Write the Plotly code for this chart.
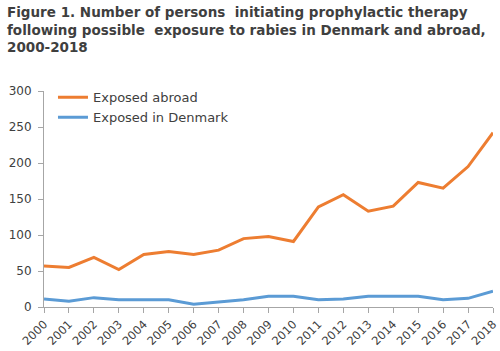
import plotly.graph_objects as go

years = list(range(2000, 2019))
abroad = [57, 55, 69, 52, 73, 77, 73, 79, 95, 98, 91, 139, 156, 133, 140, 173, 165, 195, 242]
denmark = [11, 8, 13, 10, 10, 10, 4, 7, 10, 15, 15, 10, 11, 15, 15, 15, 10, 12, 22]

title_lines = ["Figure 1. Number of persons  initiating prophylactic therapy",
               "following possible  exposure to rabies in Denmark and abroad,",
               "2000-2018"]

fig = go.Figure()
fig.add_trace(go.Scatter(x=years, y=abroad, mode="lines", name="Exposed abroad",
                         line=dict(color="#ED7D31", width=3)))
fig.add_trace(go.Scatter(x=years, y=denmark, mode="lines", name="Exposed in Denmark",
                         line=dict(color="#5B9BD5", width=3)))

plot_top, plot_bottom = 91, 307
plot_h = plot_bottom - plot_top

fig.add_annotation(
    text="<b>" + "<br>".join(title_lines) + "</b>",
    xref="paper", yref="paper", x=-39 / 449, y=(plot_bottom - 2) / plot_h,
    xanchor="left", yanchor="top", align="left", showarrow=False,
    font=dict(family="DejaVu Sans", size=13.5, color="#3F3F3F"),
)

fig.update_layout(
    width=500, height=351,
    margin=dict(l=44, r=7, t=plot_top, b=351 - plot_bottom, autoexpand=False),
    paper_bgcolor="white", plot_bgcolor="white",
    font=dict(family="DejaVu Sans", color="#404040", size=12),
    legend=dict(x=0.02, y=1.04, xanchor="left", yanchor="top", bgcolor="rgba(0,0,0,0)",
                font=dict(size=13, color="#404040"), tracegroupgap=0),
    showlegend=True,
)
fig.update_xaxes(range=[2000, 2018], tickmode="array", tickvals=years,
                 ticktext=[str(y) for y in years], tickangle=-45, automargin=False,
                 showgrid=False, zeroline=False, showline=True, linecolor="#A6A6A6",
                 ticks="outside", ticklen=5, tickcolor="#A6A6A6",
                 tickfont=dict(size=11.5, color="#404040"))
fig.update_yaxes(range=[0, 300], dtick=50, showgrid=False, zeroline=False, automargin=False,
                 showline=True, linecolor="#A6A6A6", ticks="outside", ticklen=5,
                 tickcolor="#A6A6A6", ticklabelstandoff=4,
                 tickfont=dict(size=12, color="#404040"))

fig.write_html("out.html")
